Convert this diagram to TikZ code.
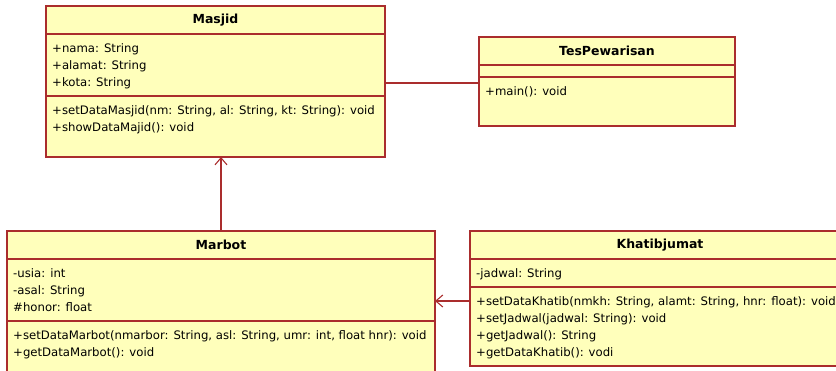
\documentclass[tikz,border=0pt]{standalone}
\usepackage{fontspec}
\setmainfont{DejaVu Sans}
\usetikzlibrary{positioning}
\usetikzlibrary{arrows.meta}
\definecolor{umlfill}{RGB}{255,255,187}
\definecolor{umlline}{RGB}{170,45,45}
\tikzset{box/.style = {draw=umlline, fill=umlfill, line width=1.2pt, inner sep=0,
                       outer sep=0, font=\bfseries\fontsize{12.5}{14}\selectfont}}
\tikzset{members/.style = {anchor=north west, align=left, inner xsep=6pt,
                           inner ysep=9.5pt, font=\fontsize{11.7}{17}\selectfont}}
\tikzset{link/.style = {draw=umlline, line width=1.1pt}}
\tikzset{nav/.style = {link, -{Straight Barb[length=7pt, width=12pt, line width=1.1pt]}}}

\begin{document}
\begin{tikzpicture}[x=1pt, y=-1pt]
    \useasboundingbox (0, 0) rectangle (836, 370);
    \clip (0, 0) rectangle (836, 370);

    % Masjid
    \node [box, anchor=north west, minimum width=339, minimum height=28] (masjid) at (46, 6) {Masjid};
    \node [box, below=0 of masjid, minimum width=339, minimum height=62] (masjid-attr) {};
    \node [box, below=0 of masjid-attr, minimum width=339, minimum height=61] (masjid-ops) {};
    \node [members] at (masjid-attr.north west) {+nama: String\\+alamat: String\\+kota: String};
    \node [members] at (masjid-ops.north west) {+setDataMasjid(nm: String, al: String, kt: String): void\\+showDataMajid(): void};

    % TesPewarisan
    \node [box, anchor=north west, minimum width=256, minimum height=28] (tes) at (479, 37) {TesPewarisan};
    \node [box, below=0 of tes, minimum width=256, minimum height=12] (tes-attr) {};
    \node [box, below=0 of tes-attr, minimum width=256, minimum height=49] (tes-ops) {};
    \node [members] at (tes-ops.north west) {+main(): void};

    % Marbot
    \node [box, anchor=north west, minimum width=428, minimum height=28] (marbot) at (7, 231) {Marbot};
    \node [box, below=0 of marbot, minimum width=428, minimum height=62] (marbot-attr) {};
    \node [box, below=0 of marbot-attr, minimum width=428, minimum height=70] (marbot-ops) {};
    \node [members] at (marbot-attr.north west) {-usia: int\\-asal: String\\\#honor: float};
    \node [members] at (marbot-ops.north west) {+setDataMarbot(nmarbor: String, asl: String, umr: int, float hnr): void\\+getDataMarbot(): void};

    % Khatibjumat
    \node [box, anchor=north west, minimum width=380, minimum height=28] (khatib) at (470, 231) {Khatibjumat};
    \node [box, below=0 of khatib, minimum width=380, minimum height=28] (khatib-attr) {};
    \node [box, below=0 of khatib-attr, minimum width=380, minimum height=79] (khatib-ops) {};
    \node [members] at (khatib-attr.north west) {-jadwal: String};
    \node [members] at (khatib-ops.north west) {+setDataKhatib(nmkh: String, alamt: String, hnr: float): void\\+setJadwal(jadwal: String): void\\+getJadwal(): String\\+getDataKhatib(): vodi};

    % relations
    \coordinate (row1) at (0, 83);
    \coordinate (row2) at (0, 301);
    \draw [link] (masjid-attr.east |- row1) -- (tes-ops.west |- row1);
    \draw [nav] (marbot.north) -- (marbot.north |- masjid-ops.south);
    \draw [nav] (khatib-ops.west |- row2) -- (marbot-attr.east |- row2);
\end{tikzpicture}
\end{document}
